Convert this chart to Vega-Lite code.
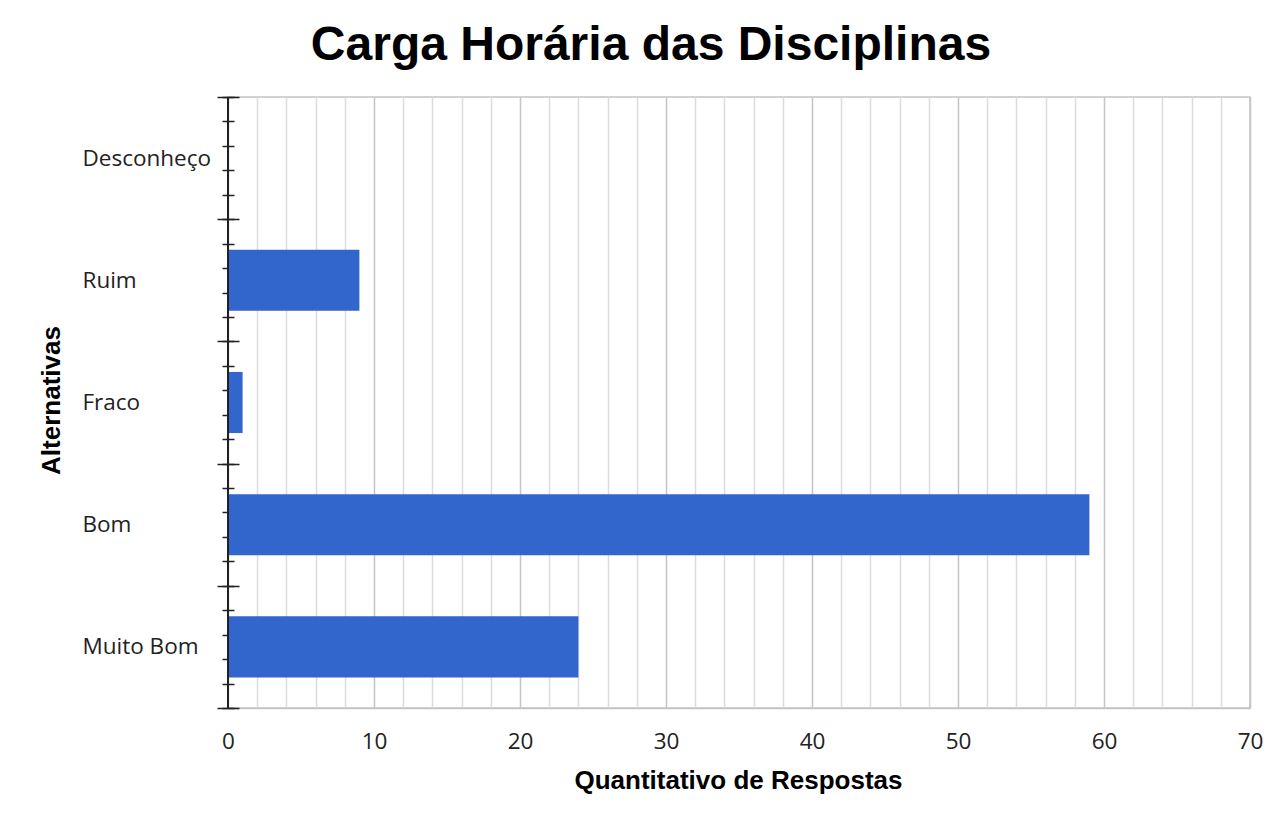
{
  "$schema": "https://vega.github.io/schema/vega-lite/v6.json",
  "autosize": {"type": "none"},
  "padding": {"left": 228, "top": 97, "right": 29, "bottom": 105},
  "width": 1022,
  "height": 611,
  "background": "white",
  "title": {
    "text": "Carga Horária das Disciplinas",
    "font": "Liberation Sans",
    "fontSize": 48,
    "fontWeight": "bold",
    "color": "#000000",
    "anchor": "middle",
    "baseline": "alphabetic",
    "offset": 35,
    "dx": -88,
    "dy": 57
  },
  "config": {
    "view": {"stroke": "#c4c4c4", "strokeWidth": 1.5}
  },
  "data": {
    "values": [
      {"Alternativa": "Desconheço", "Quantidade": 0},
      {"Alternativa": "Ruim", "Quantidade": 9},
      {"Alternativa": "Fraco", "Quantidade": 1},
      {"Alternativa": "Bom", "Quantidade": 59},
      {"Alternativa": "Muito Bom", "Quantidade": 24}
    ]
  },
  "layer": [
    {
      "mark": {"type": "bar", "color": "#3366cc", "height": {"band": 0.5}},
      "encoding": {
        "y": {
          "field": "Alternativa",
          "type": "nominal",
          "sort": ["Desconheço", "Ruim", "Fraco", "Bom", "Muito Bom"],
          "scale": {"paddingInner": 0, "paddingOuter": 0},
          "axis": {
            "orient": "left",
            "title": "Alternativas",
            "titleFont": "Liberation Sans",
            "titleFontSize": 26,
            "titleFontWeight": "bold",
            "titleColor": "#000000",
            "titleAngle": -90,
            "titleBaseline": "alphabetic",
            "titleX": -180,
            "titleY": 303,
            "titleAlign": "center",
            "domain": false,
            "ticks": true,
            "tickBand": "extent",
            "tickSize": 22,
            "tickWidth": 1.5,
            "tickColor": "#222222",
            "offset": -11,
            "labelAlign": "left",
            "labelBaseline": "middle",
            "labelPadding": 135,
            "labelFont": "Open Sans",
            "labelFontSize": 22.5,
            "labelColor": "#222222"
          }
        },
        "x": {
          "field": "Quantidade",
          "type": "quantitative",
          "scale": {"domain": [0, 70], "nice": false, "zero": true},
          "axis": {
            "values": [0,2,4,6,8,10,12,14,16,18,20,22,24,26,28,30,32,34,36,38,40,42,44,46,48,50,52,54,56,58,60,62,64,66,68,70],
            "tickCount": 40,
            "labelExpr": "datum.value % 10 === 0 ? datum.label : ''",
            "ticks": false,
            "tickSize": 0,
            "labelPadding": 40,
            "labelBaseline": "alphabetic",
            "labelFont": "Open Sans",
            "labelFontSize": 22.5,
            "labelColor": "#222222",
            "labelOverlap": false,
            "labelFlush": false,
            "domainColor": "#c4c4c4",
            "domainWidth": 1.5,
            "grid": true,
            "gridColor": {"condition": {"test": "datum.value % 10 === 0", "value": "#c4c4c4"}, "value": "#dcdcdc"},
            "gridWidth": 1.5,
            "title": "Quantitativo de Respostas",
            "titleFont": "Liberation Sans",
            "titleFontSize": 26,
            "titleFontWeight": "bold",
            "titleColor": "#000000",
            "titleBaseline": "alphabetic",
            "titleY": 80,
            "titleX": 510
          }
        }
      }
    },
    {
      "mark": {"type": "point", "opacity": 0},
      "encoding": {
        "y": {
          "datum": 0,
          "type": "quantitative",
          "scale": {"domain": [0, 25], "nice": false, "zero": true},
          "axis": {
            "orient": "left",
            "title": null,
            "values": [0,1,2,3,4,5,6,7,8,9,10,11,12,13,14,15,16,17,18,19,20,21,22,23,24,25],
            "tickCount": 30,
            "labels": false,
            "domain": false,
            "grid": false,
            "ticks": true,
            "tickSize": 12,
            "tickWidth": 1.5,
            "tickColor": "#222222",
            "offset": -6
          }
        },
        "x": {"datum": 0, "type": "quantitative"}
      }
    },
    {
      "mark": {"type": "rule", "color": "#222222", "strokeWidth": 1.5},
      "encoding": {
        "x": {"datum": 0, "type": "quantitative"}
      }
    }
  ],
  "resolve": {"scale": {"y": "independent"}}
}
